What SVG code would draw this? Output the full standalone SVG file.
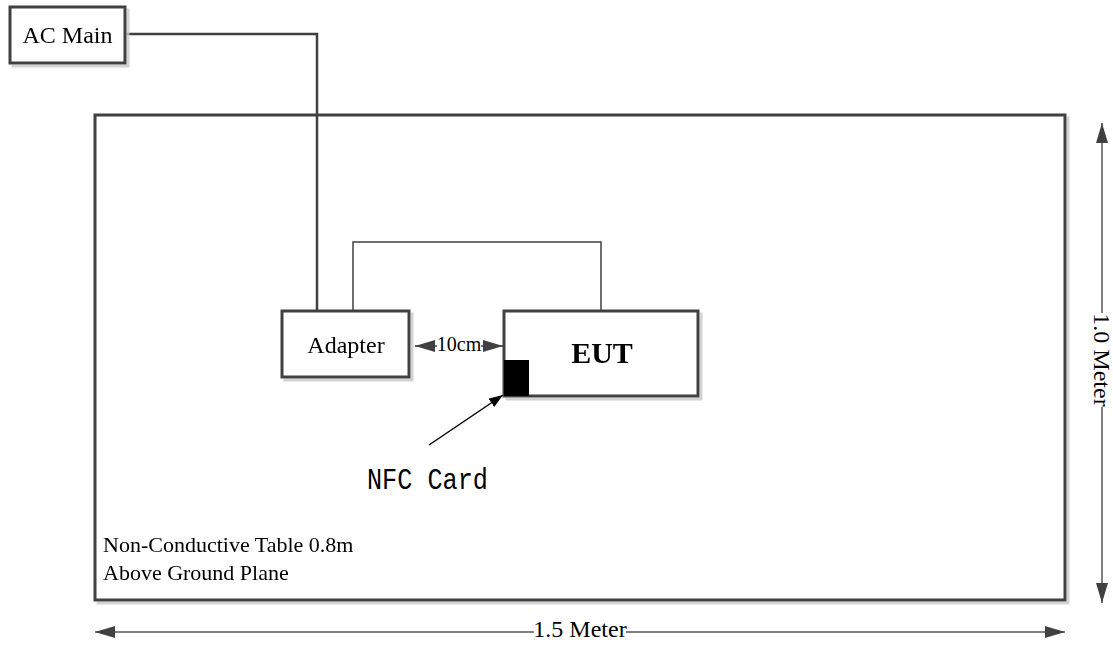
<svg xmlns="http://www.w3.org/2000/svg" width="1113" height="648" viewBox="0 0 1113 648">
<style>
.box{fill:#fff;stroke:#404040;stroke-width:3}
.wire{fill:none;stroke:#404040;stroke-width:2.5}
.thin{fill:none;stroke:#404040;stroke-width:1.5}
.dim{fill:none;stroke:#555;stroke-width:1.5}
.t{font-family:"Liberation Serif","Times New Roman",serif;fill:#000}
.sh{filter:url(#shadow)}
</style>
<defs>
<filter id="shadow" x="-5%" y="-5%" width="115%" height="120%">
<feDropShadow dx="3" dy="3" stdDeviation="0.6" flood-color="#c8c8c8" flood-opacity="0.8"/>
</filter>
<marker id="ah" viewBox="0 0 20 12" refX="20" refY="6" markerWidth="20" markerHeight="12" markerUnits="userSpaceOnUse" orient="auto">
<path d="M0,0 L20,6 L0,12 Z" fill="#404040"/>
</marker>
<marker id="ahb" viewBox="0 0 14 10" refX="14" refY="5" markerWidth="14" markerHeight="10" markerUnits="userSpaceOnUse" orient="auto">
<path d="M0,0 L14,5 L0,10 Z" fill="#000"/>
</marker>
</defs>
<g id="table" class="sh">
<rect x="95" y="115" width="970" height="485" class="box" stroke-width="3.5"/>
<text class="t" x="103" y="552" font-size="22">Non-Conductive Table 0.8m</text>
<text class="t" x="103" y="580" font-size="22">Above Ground Plane</text>
</g>
<g id="connectors">
<polyline class="wire" points="125,34 317,34 317,311"/>
<polyline class="thin" points="353,311 353,242 601,242 601,311"/>
<line class="thin" x1="437" y1="346" x2="415" y2="346" marker-end="url(#ah)"/>
<line class="thin" x1="481" y1="346" x2="503" y2="346" marker-end="url(#ah)"/>
<line x1="429" y1="445" x2="503" y2="395" stroke="#000" stroke-width="1.5" marker-end="url(#ahb)"/>
<line class="dim" x1="534" y1="632" x2="95" y2="632" marker-end="url(#ah)"/>
<line class="dim" x1="626" y1="632" x2="1065" y2="632" marker-end="url(#ah)"/>
<line class="dim" x1="1102" y1="313" x2="1102" y2="123" marker-end="url(#ah)"/>
<line class="dim" x1="1102" y1="407" x2="1102" y2="603" marker-end="url(#ah)"/>
</g>
<g id="ac-main" class="sh">
<rect x="10" y="7" width="115" height="56" class="box"/>
<text class="t" x="67.5" y="43" font-size="24" text-anchor="middle">AC Main</text>
</g>
<g id="adapter" class="sh">
<rect x="282" y="311" width="127" height="66" class="box"/>
<text class="t" x="346" y="353" font-size="24" text-anchor="middle">Adapter</text>
</g>
<g id="eut" class="sh">
<rect x="504" y="311" width="194" height="85" class="box"/>
<text class="t" x="602" y="363" font-size="30" font-weight="bold" text-anchor="middle">EUT</text>
<rect x="504" y="360" width="25" height="36" fill="#000"/>
</g>
<g id="label-10cm">
<text class="t" x="459" y="351" font-size="20" text-anchor="middle">10cm</text>
</g>
<g id="nfc-label">
<text x="367" y="489" font-family="'Liberation Mono','Courier New',monospace" font-size="30" textLength="121" lengthAdjust="spacingAndGlyphs">NFC Card</text>
</g>
<g id="dim-labels">
<text class="t" x="580" y="637" font-size="24" text-anchor="middle">1.5 Meter</text>
<text class="t" font-size="24" text-anchor="middle" transform="translate(1094,360) rotate(90)">1.0 Meter</text>
</g>
</svg>
